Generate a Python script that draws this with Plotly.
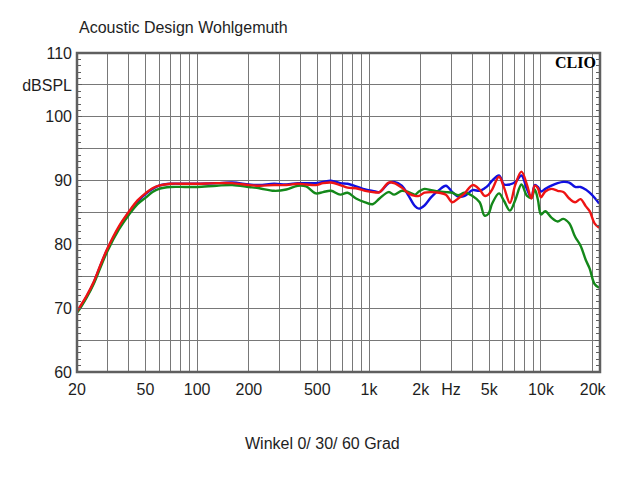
import math
import plotly.graph_objects as go

# ---- data ----
freq_hz = [20, 21, 22.7, 25, 27.3, 30, 35, 40, 45, 50, 55, 60, 70, 85, 100, 130, 160, 200, 230, 280,
           330, 385, 430, 490, 540, 600, 680, 750, 840, 950, 1050, 1150, 1300, 1400, 1550, 1700, 1850,
           1950, 2100, 2300, 2550, 2800, 3050, 3300, 3600, 4000, 4400, 4700, 4950, 5200, 5700, 6100,
           6600, 7100, 7700, 8300, 8800, 9200, 9600, 10000, 10600, 11500, 12500, 13500, 14600, 15800,
           17000, 18200, 19200, 20500, 21800]

spl_0deg = [69.5, 70.3, 71.8, 74.0, 76.6, 79.2, 82.6, 85.0, 86.7, 87.9, 88.7, 89.2, 89.5, 89.5, 89.5,
            89.6, 89.7, 89.4, 89.3, 89.5, 89.4, 89.6, 89.6, 89.6, 89.8, 90.0, 89.6, 89.5, 89.1, 88.6,
            88.4, 88.2, 89.6, 89.8, 89.2, 87.6, 86.0, 85.6, 86.1, 87.4, 88.5, 89.2, 88.2, 87.5, 87.6,
            88.5, 88.4, 88.8, 89.3, 90.0, 90.8, 89.4, 89.4, 89.8, 90.8, 88.6, 87.3, 89.3, 89.0, 88.3,
            88.7, 89.2, 89.6, 89.8, 89.7, 89.0, 89.0, 88.6, 88.1, 87.3, 86.4]

spl_30deg = [69.5, 70.4, 71.9, 74.1, 76.7, 79.3, 82.8, 85.1, 86.9, 88.0, 88.8, 89.2, 89.5, 89.5, 89.5,
             89.6, 89.6, 89.3, 89.2, 89.3, 89.3, 89.5, 89.4, 89.3, 89.6, 89.7, 89.3, 88.9, 88.8, 88.4,
             88.2, 88.2, 89.7, 89.6, 88.9, 88.0, 87.6, 87.6, 88.1, 88.2, 88.1, 87.8, 86.6, 87.2, 88.0,
             89.3, 88.6, 87.6, 87.8, 88.6, 90.6, 88.9, 86.5, 89.4, 91.4, 89.3, 87.2, 89.2, 88.8, 87.4,
             88.3, 88.7, 88.4, 88.2, 87.2, 86.6, 87.1, 86.0, 85.2, 83.3, 82.6]

spl_60deg = [69.3, 70.1, 71.6, 73.8, 76.3, 78.9, 82.3, 84.6, 86.3, 87.3, 88.2, 88.7, 89.0, 89.0, 89.0,
             89.2, 89.3, 89.0, 88.8, 88.4, 88.6, 89.2, 89.1, 88.0, 88.2, 88.4, 87.8, 88.1, 87.2, 86.6,
             86.3, 87.2, 88.2, 87.8, 88.4, 88.2, 87.8, 88.3, 88.7, 88.5, 88.3, 88.2, 88.1, 87.7, 88.1,
             87.6, 86.6, 84.5, 84.8, 86.4, 88.0, 86.8, 85.3, 87.0, 89.4, 87.6, 87.3, 88.6, 87.0, 84.7,
             85.2, 84.2, 83.6, 84.0, 83.3, 81.2, 79.8, 77.6, 76.2, 73.8, 73.2]

x_tickvals = [20, 30, 40, 50, 60, 70, 80, 90, 100, 200, 300, 400, 500, 600, 700, 800, 900,
              1000, 2000, 3000, 4000, 5000, 6000, 7000, 8000, 9000, 10000, 20000]
x_ticktext = ["20", "", "", "50", "", "", "", "", "100", "200", "", "", "500", "", "", "", "",
              "1k", "2k", "Hz", "", "5k", "", "", "", "", "10k", "20k"]
y_tickvals = [60, 65, 70, 75, 80, 85, 90, 95, 100, 105, 110]
y_ticktext = ["60", "", "70", "", "80", "", "90", "", "100", "dBSPL", "110"]

title_text = "Acoustic Design Wohlgemuth"
bottom_text = "Winkel 0/ 30/ 60 Grad"
brand_text = "CLIO"

# ---- styling ----
GRID = "#787878"
FRAME = "#5f5f5f"
TXT = "#1e1e1e"
FONT = "Liberation Sans, Arial, sans-serif"

fig = go.Figure()
fig.add_trace(go.Scatter(x=freq_hz, y=spl_0deg, mode="lines", line=dict(color="#1010e0", width=2.4),
                         line_shape="spline", showlegend=False, hoverinfo="skip"))
fig.add_trace(go.Scatter(x=freq_hz, y=spl_60deg, mode="lines", line=dict(color="#14881a", width=2.4),
                         line_shape="spline", showlegend=False, hoverinfo="skip"))
fig.add_trace(go.Scatter(x=freq_hz, y=spl_30deg, mode="lines", line=dict(color="#ee1414", width=2.4),
                         line_shape="spline", showlegend=False, hoverinfo="skip"))
# invisible trace to activate the right-hand axis (for its inside ticks)
fig.add_trace(go.Scatter(x=[1000], y=[0], yaxis="y2", mode="markers", marker=dict(opacity=0),
                         showlegend=False, hoverinfo="skip"))

fig.update_layout(
    width=640, height=480,
    margin=dict(l=77, r=40, t=53, b=108),
    paper_bgcolor="white", plot_bgcolor="white",
    font=dict(family=FONT, size=16, color=TXT),
    xaxis=dict(type="log", range=[math.log10(20), math.log10(22050)],
               tickvals=x_tickvals, ticktext=x_ticktext, showgrid=True, gridcolor=GRID, gridwidth=1,
               zeroline=False, showline=False, ticks="", tickfont=dict(size=16, color=TXT),
               ticklabelstandoff=6),
    yaxis=dict(range=[60, 110], tickvals=y_tickvals, ticktext=y_ticktext, showgrid=True,
               gridcolor=GRID, gridwidth=1, zeroline=False, showline=False,
               ticks="inside", ticklen=5, tickcolor=FRAME, tickwidth=1,
               minor=dict(dtick=1, ticks="inside", ticklen=4, tickcolor=FRAME, tickwidth=1, showgrid=False),
               tickfont=dict(size=16, color=TXT), ticklabelstandoff=4),
    yaxis2=dict(range=[60, 110], overlaying="y", side="right", showgrid=False, zeroline=False,
                showline=False, showticklabels=False, tickvals=y_tickvals,
                ticks="inside", ticklen=5, tickcolor=FRAME, tickwidth=1,
                minor=dict(dtick=1, ticks="inside", ticklen=4, tickcolor=FRAME, tickwidth=1, showgrid=False)),
    shapes=[dict(type="rect", xref="paper", yref="paper", x0=0, x1=1, y0=0, y1=1,
                 line=dict(color=FRAME, width=2.5), layer="above")],
    annotations=[
        dict(text=title_text, xref="paper", yref="paper", x=0, y=1 + 26 / 319, xanchor="left",
             yanchor="middle", showarrow=False, font=dict(size=16, color=TXT, family=FONT)),
        dict(text=bottom_text, xref="paper", yref="paper", x=(322 - 77) / 523, y=-71 / 319,
             xanchor="center", yanchor="middle", showarrow=False, font=dict(size=16, color=TXT, family=FONT)),
        dict(text="<b>" + brand_text + "</b>", xref="paper", yref="paper", x=1, y=1 - 9 / 319,
             xanchor="right", yanchor="middle", xshift=-2, showarrow=False,
             font=dict(size=16, color="#000000", family="Liberation Serif, Times New Roman, serif")),
    ],
)

fig.write_html("out.html")
